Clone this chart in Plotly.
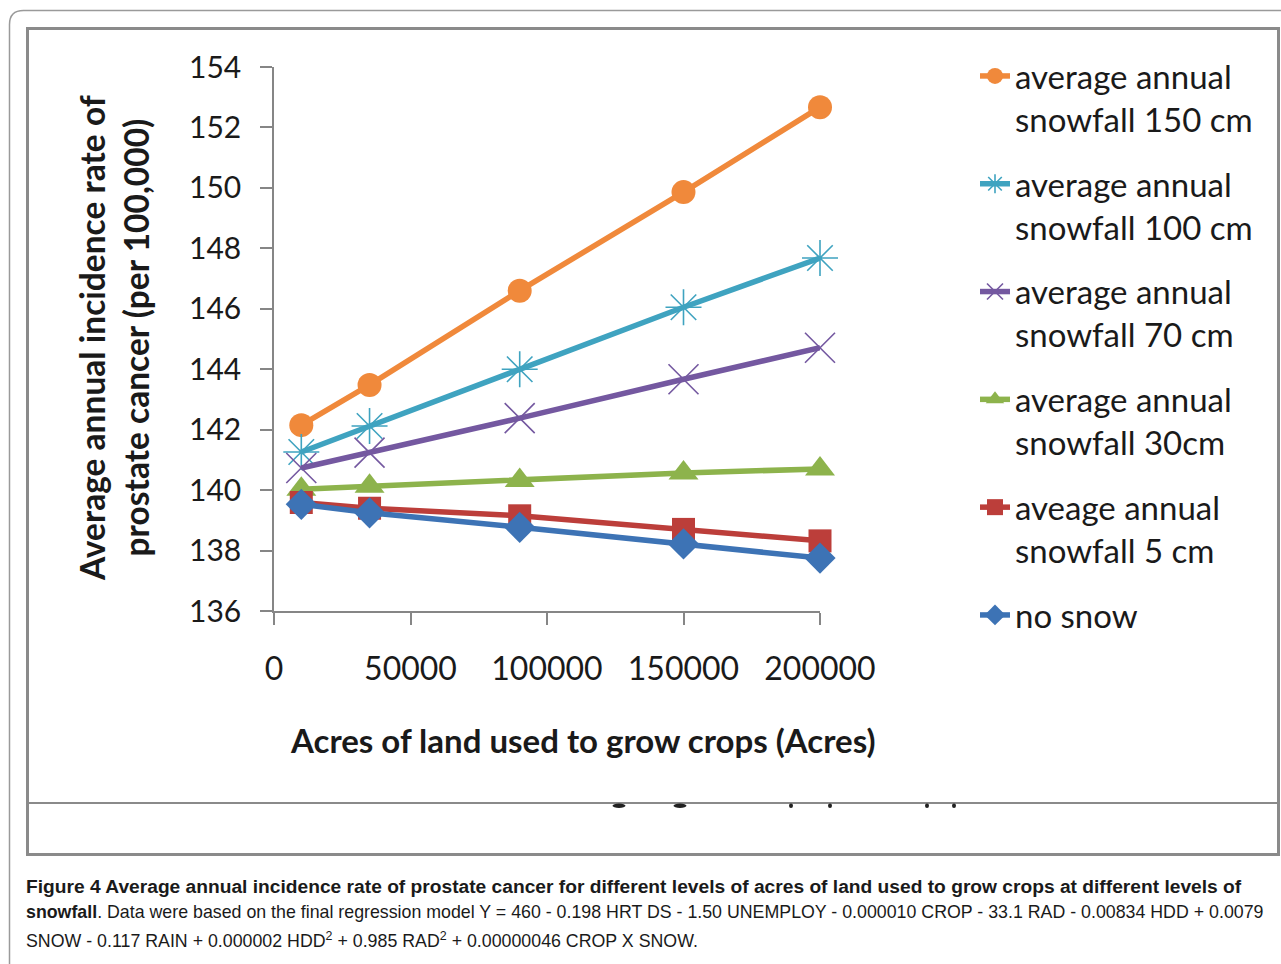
import plotly.graph_objects as go

# ---------------- data ----------------
acres = [10000, 35000, 90000, 150000, 200000]

snow150 = [142.15, 143.48, 146.60, 149.86, 152.67]
snow100 = [141.26, 142.12, 144.00, 146.05, 147.68]
snow70 = [140.73, 141.24, 142.38, 143.67, 144.71]
snow30 = [140.03, 140.13, 140.32, 140.57, 140.70]
snow5 = [139.59, 139.40, 139.15, 138.70, 138.32]
nosnow = [139.53, 139.25, 138.77, 138.22, 137.75]

series_names = [
    "average annual<br>snowfall 150 cm",
    "average annual<br>snowfall 100 cm",
    "average annual<br>snowfall 70 cm",
    "average annual<br>snowfall 30cm",
    "aveage annual<br>snowfall 5 cm",
    "no snow",
]
series_values = [snow150, snow100, snow70, snow30, snow5, nosnow]

y_ticks = [136, 138, 140, 142, 144, 146, 148, 150, 152, 154]
x_ticks = [0, 50000, 100000, 150000, 200000]

x_title = "Acres of land used to grow crops (Acres)"
y_title = "Average annual incidence rate of<br>prostate cancer (per 100,000)"
caption = [
    "<b>Figure 4 Average annual incidence rate of prostate cancer for different levels of acres of land used to grow crops at different levels of</b>",
    "<b>snowfall</b>. Data were based on the final regression model Y = 460 - 0.198 HRT DS - 1.50 UNEMPLOY - 0.000010 CROP - 33.1 RAD - 0.00834 HDD + 0.0079",
    "SNOW - 0.117 RAIN + 0.000002 HDD<sup>2</sup> + 0.985 RAD<sup>2</sup> + 0.00000046 CROP X SNOW.",
]

# ---------------- styles ----------------
W, H = 1281, 964
PL, PR, PT, PB = 274, 820, 67, 611  # plot area pixel box
FONT = "Lato, Carlito, Calibri, sans-serif"
CAP_FONT = "Liberation Sans, Arial, sans-serif"

styles = [
    dict(color="#F0893B", symbol="circle", size=24, mline="#F0893B", mw=0),
    dict(color="#3FA3C0", symbol="asterisk-open", size=30, mline="#7FA9BF", mw=1.6),
    dict(color="#7458A0", symbol="x-thin-open", size=30, mline="#A496BC", mw=1.6),
    dict(color="#8DB34C", symbol="triangle-up", size=26, mline="#8DB34C", mw=0),
    dict(color="#BC3E3A", symbol="square", size=23, mline="#BC3E3A", mw=0),
    dict(color="#3D73B5", symbol="diamond", size=24, mline="#3D73B5", mw=0),
]


def px_x(px):
    return px / W


def px_y(py):
    return (H - py) / H


fig = go.Figure()
for i, (name, vals, st) in enumerate(zip(series_names, series_values, styles)):
    fig.add_trace(
        go.Scatter(
            x=acres,
            y=vals,
            name=name,
            mode="lines+markers",
            legendgroup=f"g{i}",
            cliponaxis=False,
            line=dict(color=st["color"], width=5.5),
            marker=dict(
                symbol=st["symbol"],
                size=st["size"],
                color=st["color"],
                line=dict(color=st["mline"], width=st["mw"]),
            ),
        )
    )

axis_color = "#868686"
fig.update_xaxes(
    domain=[px_x(PL), px_x(PR)],
    range=[0, 200000],
    tickvals=x_ticks,
    ticktext=[str(v) for v in x_ticks],
    showgrid=False,
    zeroline=False,
    showline=True,
    linecolor=axis_color,
    linewidth=1.5,
    ticks="outside",
    ticklen=12,
    tickwidth=1.5,
    tickcolor=axis_color,
    ticklabelstandoff=17,
    tickfont=dict(family=FONT, size=32, color="#1a1a1a"),
)
fig.update_yaxes(
    domain=[px_y(PB), px_y(PT)],
    range=[136, 154],
    tickvals=y_ticks,
    showgrid=False,
    zeroline=False,
    showline=True,
    linecolor=axis_color,
    linewidth=1.5,
    ticks="outside",
    ticklen=12,
    tickwidth=1.5,
    tickcolor=axis_color,
    ticklabelstandoff=13,
    tickfont=dict(family=FONT, size=30, color="#1a1a1a"),
)

annotations = [
    dict(
        text=f"<b>{x_title}</b>",
        x=px_x(582), y=px_y(740), xref="paper", yref="paper",
        xanchor="center", yanchor="middle", showarrow=False,
        font=dict(family=FONT, size=33, color="#1a1a1a"),
    ),
    dict(
        text=f"<b>{y_title}</b>",
        x=px_x(114), y=px_y(338), xref="paper", yref="paper",
        xanchor="center", yanchor="middle", showarrow=False, textangle=-90,
        font=dict(family=FONT, size=33.5, color="#1a1a1a"),
    ),
]
for line, ypix, fs in zip(caption, [886, 912, 940], [19.2, 17.8, 17.8]):
    annotations.append(
        dict(
            text=line, x=px_x(24), y=px_y(ypix), xref="paper", yref="paper",
            xanchor="left", yanchor="middle", showarrow=False, align="left",
            font=dict(family=CAP_FONT, size=fs, color="#1a1a1a"),
        )
    )

frame = "#8a8a8a"
r = 14
ox, oy = 9.5, 10.5
outer_path = (
    f"M {px_x(ox)},{px_y(H + 20)} L {px_x(ox)},{px_y(oy + r)} "
    f"Q {px_x(ox)},{px_y(oy)} {px_x(ox + r)},{px_y(oy)} L {px_x(W + 20)},{px_y(oy)}"
)
shapes = [
    dict(type="path", path=outer_path, xref="paper", yref="paper",
         line=dict(color="#9a9a9a", width=1.5)),
    dict(type="rect", x0=px_x(27.5), x1=px_x(1278.5), y0=px_y(28.5), y1=px_y(854.5),
         xref="paper", yref="paper", line=dict(color=frame, width=3)),
    dict(type="line", x0=px_x(27.5), x1=px_x(1278.5), y0=px_y(803), y1=px_y(803),
         xref="paper", yref="paper", line=dict(color=frame, width=2)),
]
# remnants of clipped text just below the divider line
for cx, w in [(619, 13), (680, 13), (791, 4), (830, 4), (927, 4), (954, 4)]:
    shapes.append(
        dict(type="circle", xref="paper", yref="paper",
             x0=px_x(cx - w / 2), x1=px_x(cx + w / 2),
             y0=px_y(803.5), y1=px_y(808),
             fillcolor="#222222", line=dict(width=0))
    )

fig.update_layout(
    width=W,
    height=H,
    margin=dict(l=0, r=0, t=0, b=0, pad=0, autoexpand=False),
    paper_bgcolor="white",
    plot_bgcolor="white",
    showlegend=True,
    legend=dict(
        x=px_x(975), y=px_y(48), xref="paper", yref="paper",
        xanchor="left", yanchor="top",
        font=dict(family=FONT, size=33, color="#1a1a1a"),
        valign="top",
        tracegroupgap=19,
        traceorder="grouped",
        bgcolor="rgba(0,0,0,0)",
        itemsizing="trace",
    ),
    annotations=annotations,
    shapes=shapes,
)

fig.write_html(
    "out.html",
    config={"displayModeBar": False},
    post_script="document.body.style.margin='0';document.body.style.overflow='hidden';",
)
